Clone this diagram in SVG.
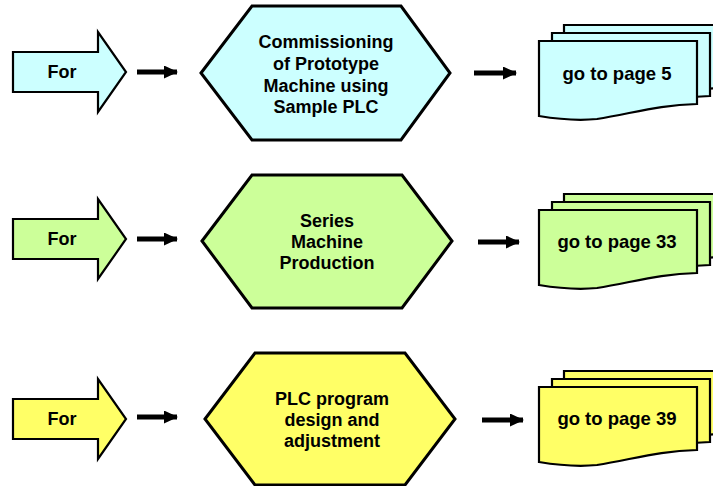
<svg xmlns="http://www.w3.org/2000/svg" width="713" height="486" viewBox="0 0 713 486">
<style>
.s{stroke:#000;stroke-width:2.2;stroke-linejoin:miter}
.h{stroke-width:3}
.c{fill:#CCFFFF}.g{fill:#CCFF99}.y{fill:#FFFF66}
text{font-family:"Liberation Sans",Arial,sans-serif;font-weight:bold;font-size:18px;fill:#000;text-anchor:middle}
.t{font-size:18.5px}
</style>
<defs>
<path id="doc" d="M0,0 H158 V63 C120,64 95,72 58,78 C38,80 18,78 0,75 Z"/>
<path id="blk" d="M0,20 H85 V0 L113,40 L85,80 V60 H0 Z"/>
<marker id="ah" viewBox="0 0 14 13" refX="13" refY="6.5" markerWidth="14" markerHeight="13" markerUnits="userSpaceOnUse" orient="auto"><path d="M0,0 L14,6.5 L0,13 Z" fill="#000"/></marker>
</defs>
<g id="connectors" stroke="#000" stroke-width="5" fill="none">
<line x1="137" y1="72" x2="177" y2="72" marker-end="url(#ah)"/>
<line x1="474" y1="73" x2="516" y2="73" marker-end="url(#ah)"/>
<line x1="137" y1="239" x2="177" y2="239" marker-end="url(#ah)"/>
<line x1="478" y1="242" x2="519" y2="242" marker-end="url(#ah)"/>
<line x1="137" y1="417" x2="177" y2="417" marker-end="url(#ah)"/>
<line x1="482" y1="420" x2="523" y2="420" marker-end="url(#ah)"/>
</g>
<g id="for1"><use href="#blk" x="13" y="32" class="s c"/><text x="62" y="78">For</text></g>
<g id="for2"><use href="#blk" x="13" y="199" class="s g"/><text x="62" y="245">For</text></g>
<g id="for3"><use href="#blk" x="13" y="379" class="s y"/><text x="62" y="425">For</text></g>
<g id="hex1"><polygon class="s h c" points="201,73 252,6 401,6 450,73 401,140 252,140"/>
<text x="326" y="48">Commissioning</text><text x="326" y="70">of Prototype</text><text x="326" y="92">Machine using</text><text x="326" y="113">Sample PLC</text></g>
<g id="hex2"><polygon class="s h g" points="202,241 252,175 402,175 452,241 402,308 252,308"/>
<text x="327" y="227">Series</text><text x="327" y="248">Machine</text><text x="327" y="269">Production</text></g>
<g id="hex3"><polygon class="s h y" points="205,419 255,353 405,353 455,419 405,485 255,485"/>
<text x="332" y="405">PLC program</text><text x="332" y="426">design and</text><text x="332" y="447">adjustment</text></g>
<g id="doc1"><use href="#doc" x="564" y="25" class="s c"/><use href="#doc" x="552" y="33" class="s c"/><use href="#doc" x="539" y="41" class="s c"/><text class="t" x="617" y="80">go to page 5</text></g>
<g id="doc2"><use href="#doc" x="564" y="194" class="s g"/><use href="#doc" x="552" y="202" class="s g"/><use href="#doc" x="539" y="210" class="s g"/><text class="t" x="617" y="248">go to page 33</text></g>
<g id="doc3"><use href="#doc" x="564" y="371" class="s y"/><use href="#doc" x="552" y="379" class="s y"/><use href="#doc" x="539" y="387" class="s y"/><text class="t" x="617" y="425">go to page 39</text></g>
</svg>
